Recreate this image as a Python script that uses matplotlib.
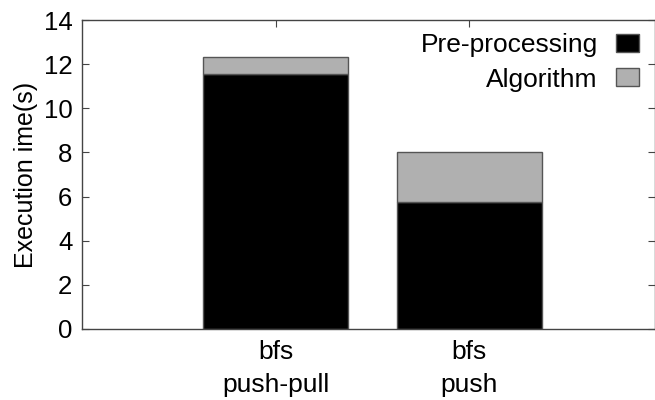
import matplotlib
matplotlib.use("Agg")
import matplotlib.pyplot as plt
from matplotlib.patches import Patch

# data
categories = ["bfs\npush-pull", "bfs\npush"]
preprocessing = [11.55, 5.77]
algorithm = [0.78, 2.25]

plt.rcParams['font.family'] = ['Liberation Sans', 'DejaVu Sans']
plt.rcParams['font.size'] = 19

fig = plt.figure(figsize=(6.55, 4.0), dpi=100)
ax = fig.add_axes([82 / 655, 71 / 400, 573 / 655, 309 / 400])

x = list(range(len(categories)))
edge = '#555555'
ax.bar(x, preprocessing, width=0.75, color='black', edgecolor=edge, linewidth=1.0)
ax.bar(x, algorithm, width=0.75, bottom=preprocessing, color='#b0b0b0',
       edgecolor=edge, linewidth=1.0)

ax.set_xlim(-1, 1.96)
ax.set_ylim(0, 14)
ax.set_yticks(range(0, 15, 2))
ax.set_xticks(x)
ax.set_xticklabels(categories, linespacing=1.48)
ax.set_ylabel("Execution ime(s)", fontsize=18, labelpad=4)

for s in ax.spines.values():
    s.set_color('#444444')
    s.set_linewidth(1.0)

ax.tick_params(axis='y', direction='in', left=True, right=True, length=5,
               width=0.8, color='#444444', pad=7, labelsize=18.5)
ax.tick_params(axis='x', direction='in', bottom=False, top=True, length=5,
               width=0.8, color='#444444', pad=8)

# legend
handles = [Patch(facecolor='black', edgecolor=edge, linewidth=1.0),
           Patch(facecolor='#b0b0b0', edgecolor=edge, linewidth=1.0)]
ax.legend(handles, ["Pre-processing", "Algorithm"], loc='upper right',
          bbox_to_anchor=(639 / 655, 1 - 33 / 400), bbox_transform=fig.transFigure,
          frameon=False, markerfirst=False, handlelength=0.88, handleheight=0.68,
          handletextpad=0.68, labelspacing=0.4, borderpad=0, borderaxespad=0)

plt.savefig("out.png", dpi=100)
